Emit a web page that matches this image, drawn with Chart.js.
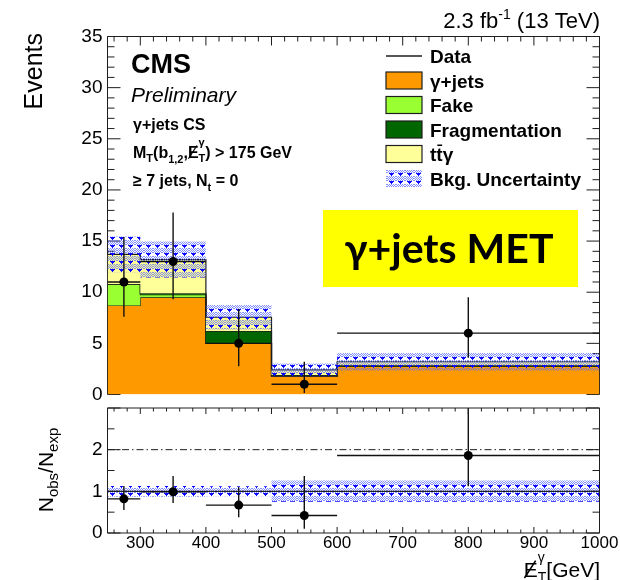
<!DOCTYPE html>
<html>
<head>
<meta charset="utf-8">
<script src="https://cdn.jsdelivr.net/npm/chart.js@4.4.0/dist/chart.umd.min.js"></script>
<style>
  html, body { margin: 0; padding: 0; background: #fff; }
  #wrap { position: relative; width: 620px; height: 580px; overflow: hidden; }
  #wrap canvas { position: absolute; left: 0; }
  #topPanel { top: 0; }
  #ratioPanel { top: 400px; }
</style>
</head>
<body>
<div id="wrap">
  <canvas id="topPanel" width="620" height="400"></canvas>
  <canvas id="ratioPanel" width="620" height="180"></canvas>
</div>
<script>
// ---- binning (missing ET, GeV) ----
const BIN_EDGES   = [250, 300, 400, 500, 600, 1000];
const BIN_CENTERS = [275, 350, 450, 550, 800];

// ---- expected backgrounds, events per bin ----
const GJETS = [8.7, 9.5, 5.0, 1.8, 2.75];
const FAKE  = [2.1, 0.25, 0.0, 0.0, 0.0];
const FRAG  = [0.0, 0.15, 1.2, 0.1, 0.1];
const TTG   = [2.9, 3.3, 1.35, 0.5, 0.35];
const BKG_UNC = [1.75, 1.75, 1.2, 0.62, 0.85];

// ---- observed data with 68% intervals ----
const DATA_EVENTS = [11, 13, 5, 1, 6];
const DATA_LO     = [7.6, 9.3, 2.75, 0.15, 3.6];
const DATA_HI     = [15.4, 17.8, 8.35, 3.2, 9.5];

// ---- ratio panel ----
const RATIO       = [0.82, 0.99, 0.67, 0.42, 1.86];
const RATIO_LO    = [0.55, 0.72, 0.38, 0.10, 1.12];
const RATIO_HI    = [1.13, 1.37, 1.10, 1.37, 3.0];
const RATIO_UNC_LO = [0.87, 0.87, 0.88, 0.75, 0.75];
const RATIO_UNC_HI = [1.13, 1.13, 1.12, 1.26, 1.26];
const RATIO_REF   = 1;
const RATIO_GUIDE = 2;

// ---- axis ticks ----
const X_TICKS       = [300, 400, 500, 600, 700, 800, 900, 1000];
const X_TICK_LABELS = ['300', '400', '500', '600', '700', '800', '900', '1000'];
const Y_TICKS_TOP   = [0, 5, 10, 15, 20, 25, 30, 35];
const Y_TICKS_RATIO = [0, 1, 2];

const FONT = '"Liberation Sans", Arial, Helvetica, sans-serif';
const EDGE = '#1e1e1e';

// histogram outline: two points per bin so the fill follows the steps
function steps(vals) {
  const pts = [];
  vals.forEach((v, i) => {
    pts.push({ x: BIN_EDGES[i], y: v });
    pts.push({ x: BIN_EDGES[i + 1], y: v });
  });
  return pts;
}
function add(a, b) { return a.map((v, i) => v + b[i]); }
function sub(a, b) { return a.map((v, i) => v - b[i]); }

// vertical + horizontal error bars, broken into segments by null gaps
function errorSegments(vals, lo, hi) {
  const pts = [];
  BIN_CENTERS.forEach((c, i) => {
    pts.push({ x: c, y: lo[i] }, { x: c, y: hi[i] }, { x: c, y: null });
    pts.push({ x: BIN_EDGES[i], y: vals[i] }, { x: BIN_EDGES[i + 1], y: vals[i] }, { x: BIN_EDGES[i + 1], y: null });
  });
  return pts;
}
function centers(vals) { return BIN_CENTERS.map((c, i) => ({ x: c, y: vals[i] })); }

// blue dotted hatch used for the uncertainty bands
function makeHatch(ctx) {
  const c = document.createElement('canvas');
  c.width = 9; c.height = 8;
  const g = c.getContext('2d');
  g.fillStyle = 'rgba(90,105,255,0.75)';
  for (let y = 0; y < 5; y++)
    for (let x = 0; x < 9; x++)
      if ((x + y) % 2 === 0) g.fillRect(x, y, 1, 1);
  g.fillStyle = '#0a0aff';
  g.fillRect(2, 5, 5, 1);
  g.fillRect(3, 6, 3, 1);
  g.fillRect(4, 7, 1, 1);
  return ctx.createPattern(c, 'repeat');
}

// rich text: runs with size / weight / offset, stacked sup+sub, slashed letters
function fnt(it) { return `${it.st || 'normal'} ${it.w || 'normal'} ${it.s}px ${FONT}`; }
function runWidth(ctx, it) {
  ctx.font = fnt(it);
  if (it.sup !== undefined) return Math.max(ctx.measureText(it.sup).width, ctx.measureText(it.sub).width);
  return ctx.measureText(it.t).width;
}
function drawRich(ctx, x, y, runs, align) {
  const total = runs.reduce((s, r) => s + runWidth(ctx, r), 0);
  let cx = align === 'right' ? x - total : align === 'center' ? x - total / 2 : x;
  ctx.textAlign = 'left';
  ctx.textBaseline = 'alphabetic';
  runs.forEach(r => {
    const w = runWidth(ctx, r);
    ctx.font = fnt(r);
    if (r.sup !== undefined) {
      ctx.fillText(r.sup, cx, y + r.supDy);
      ctx.fillText(r.sub, cx, y + r.subDy);
    } else {
      ctx.fillText(r.t, cx, y + (r.dy || 0));
      if (r.slash) {
        ctx.save();
        ctx.strokeStyle = ctx.fillStyle;
        ctx.lineWidth = Math.max(1, r.s * 0.075);
        ctx.beginPath();
        ctx.moveTo(cx + w * 0.05, y + r.s * 0.05);
        ctx.lineTo(cx + w * 0.85, y - r.s * 0.78);
        ctx.stroke();
        ctx.restore();
      }
    }
    cx += w;
  });
}

// frame with inward ticks on all requested sides
function framePlugin(id, hook, cfg) {
  return {
    id,
    [hook](chart) {
      const { ctx, chartArea: a, scales } = chart;
      const xs = scales.x, ys = scales.y;
      ctx.save();
      ctx.strokeStyle = EDGE;
      ctx.lineWidth = 1;
      ctx.beginPath();
      ctx.moveTo(a.left, a.bottom); ctx.lineTo(a.left, a.top);
      ctx.lineTo(a.right, a.top); ctx.lineTo(a.right, a.bottom);
      if (cfg.bottomEdge) ctx.lineTo(a.left, a.bottom);
      ctx.stroke();
      ctx.beginPath();
      for (let v = 260; v <= 1000; v += 20) {
        const major = v % 100 === 0;
        const len = major ? cfg.xMajor : cfg.xMinor;
        const px = xs.getPixelForValue(v);
        ctx.moveTo(px, a.top); ctx.lineTo(px, a.top + len);
        if (cfg.bottomEdge) { ctx.moveTo(px, a.bottom); ctx.lineTo(px, a.bottom - len); }
      }
      for (let v = ys.min; v <= ys.max + 1e-9; v += cfg.yMinorStep) {
        const major = Math.abs(v / cfg.yMajorStep - Math.round(v / cfg.yMajorStep)) < 1e-6;
        const len = major ? cfg.yMajor : cfg.yMinor;
        const py = ys.getPixelForValue(v);
        ctx.moveTo(a.left, py); ctx.lineTo(a.left + len, py);
        ctx.moveTo(a.right, py); ctx.lineTo(a.right - len, py);
      }
      ctx.stroke();
      ctx.restore();
    }
  };
}

// fixed axis box sizes, without the half-label overhang padding
function fixWidth(w) {
  return s => { s.width = w; s.paddingTop = 0; s.paddingBottom = 0; };
}
function fixHeight(h) {
  return s => { s.height = h; s.paddingLeft = 0; s.paddingRight = 0; };
}

const C_GJ = '#ff9900', C_FAKE = '#99ff33', C_FRAG = '#006600', C_TTG = '#ffff99';

// ================= main panel =================
const topCtx = document.getElementById('topPanel').getContext('2d');
const hatchTop = makeHatch(topCtx);
const L1 = GJETS, L2 = add(L1, FAKE), L3 = add(L2, FRAG), L4 = add(L3, TTG);
const UNC_LO = sub(L4, BKG_UNC), UNC_HI = add(L4, BKG_UNC);

const layer = (label, vals, color, order, fill) => ({
  label, data: steps(vals), fill, backgroundColor: color,
  borderColor: EDGE, borderWidth: 1.2, pointRadius: 0, order
});

const topLabels = {
  id: 'topLabels',
  afterDraw(chart) {
    const ctx = chart.ctx;
    ctx.save();
    ctx.fillStyle = '#000';
    // luminosity
    drawRich(ctx, 600, 27.5, [
      { t: '2.3 fb', s: 22 }, { t: '-1', s: 14, dy: -9 }, { t: ' (13 TeV)', s: 22 }
    ], 'right');
    // y title
    ctx.save();
    ctx.translate(42, 33);
    ctx.rotate(-Math.PI / 2);
    drawRich(ctx, 0, 0, [{ t: 'Events', s: 25 }], 'right');
    ctx.restore();
    // experiment label
    drawRich(ctx, 131, 73, [{ t: 'CMS', s: 27, w: 'bold' }], 'left');
    drawRich(ctx, 131, 102, [{ t: 'Preliminary', s: 21, st: 'italic' }], 'left');
    drawRich(ctx, 133, 129.5, [{ t: 'γ+jets CS', s: 16, w: 'bold' }], 'left');
    drawRich(ctx, 133, 158, [
      { t: 'M', s: 16, w: 'bold' }, { t: 'T', s: 11, w: 'bold', dy: 4 },
      { t: '(b', s: 16, w: 'bold' }, { t: '1,2', s: 11, w: 'bold', dy: 5 },
      { t: ',', s: 16, w: 'bold' }, { t: 'E', s: 16, w: 'bold', slash: true },
      { sup: 'γ', sub: 'T', s: 11, w: 'bold', supDy: -12, subDy: 4 },
      { t: ') > 175 GeV', s: 16, w: 'bold' }
    ], 'left');
    drawRich(ctx, 133, 186, [
      { t: '≥ 7 jets, N', s: 16, w: 'bold' }, { t: 't', s: 11, w: 'bold', dy: 5 },
      { t: ' = 0', s: 16, w: 'bold' }
    ], 'left');

    // legend
    const rows = [56, 80.5, 105, 129.5, 154, 178.5];
    const bx = 386, bw = 36, bh = 17, tx = 430;
    ctx.strokeStyle = EDGE;
    ctx.lineWidth = 1.3;
    ctx.beginPath(); ctx.moveTo(bx, rows[0]); ctx.lineTo(bx + bw, rows[0]); ctx.stroke();
    [[C_GJ, 1], [C_FAKE, 2], [C_FRAG, 3], [C_TTG, 4]].forEach(([c, r]) => {
      ctx.fillStyle = c;
      ctx.fillRect(bx, rows[r] - bh / 2, bw, bh);
      ctx.lineWidth = 1.2;
      ctx.strokeRect(bx, rows[r] - bh / 2, bw, bh);
    });
    ctx.fillStyle = hatchTop;
    ctx.fillRect(bx, rows[5] - bh / 2, bw, bh);
    ctx.fillStyle = '#000';
    const lf = { s: 19, w: 'bold' };
    const base = r => rows[r] + 7;
    drawRich(ctx, tx, base(0), [{ t: 'Data', ...lf }], 'left');
    drawRich(ctx, tx, base(1), [{ t: 'γ+jets', ...lf }], 'left');
    drawRich(ctx, tx, base(2), [{ t: 'Fake', ...lf }], 'left');
    drawRich(ctx, tx, base(3), [{ t: 'Fragmentation', ...lf }], 'left');
    drawRich(ctx, tx, base(4), [{ t: 'ttγ', ...lf }], 'left');
    ctx.font = fnt(lf);
    const t1 = ctx.measureText('t').width;
    ctx.fillRect(tx + t1 + 1, base(4) - 16.5, t1 - 1.5, 1.5);
    drawRich(ctx, tx, base(5), [{ t: 'Bkg. Uncertainty', ...lf }], 'left');

    // highlighted label
    ctx.fillStyle = '#ffff00';
    ctx.fillRect(323, 210, 255, 77);
    ctx.fillStyle = '#000';
    ctx.font = 'bold 41px Lato, "Open Sans", sans-serif';
    ctx.textAlign = 'center';
    ctx.textBaseline = 'middle';
    ctx.fillText('γ+jets MET', 449, 250);
    ctx.restore();
  }
};

new Chart(topCtx, {
  type: 'line',
  data: {
    datasets: [
      layer('γ+jets', L1, C_GJ, 10, 'origin'),
      layer('Fake', L2, C_FAKE, 9, '-1'),
      layer('Fragmentation', L3, C_FRAG, 8, '-1'),
      layer('ttγ', L4, C_TTG, 7, '-1'),
      { label: 'unc-lo', data: steps(UNC_LO), fill: false, borderWidth: 0, borderColor: 'rgba(0,0,0,0)', pointRadius: 0, order: 6 },
      { label: 'Bkg. Uncertainty', data: steps(UNC_HI), fill: '-1', backgroundColor: hatchTop, borderWidth: 0, borderColor: 'rgba(0,0,0,0)', pointRadius: 0, order: 5 },
      { label: 'Data errors', data: errorSegments(DATA_EVENTS, DATA_LO, DATA_HI), borderColor: '#111', borderWidth: 1.4, pointRadius: 0, fill: false, spanGaps: false, order: 2 },
      { label: 'Data', data: centers(DATA_EVENTS), showLine: false, pointRadius: 4.5, pointBackgroundColor: '#000', pointBorderWidth: 0, order: 1 }
    ]
  },
  options: {
    responsive: false, animation: false, devicePixelRatio: 1,
    layout: { padding: { left: 0, right: 20.5, top: 36.5, bottom: 5.5 } },
    plugins: { legend: { display: false }, tooltip: { enabled: false } },
    scales: {
      x: { type: 'linear', min: 250, max: 1000, display: false },
      y: {
        type: 'linear', min: 0, max: 35,
        afterBuildTicks: s => { s.ticks = Y_TICKS_TOP.map(v => ({ value: v })); },
        afterFit: fixWidth(107.5),
        grid: { display: false, drawTicks: false },
        border: { display: false },
        ticks: { font: { family: FONT, size: 19 }, color: '#000', padding: 5 }
      }
    }
  },
  plugins: [
    framePlugin('frameTop', 'beforeDatasetsDraw', { xMajor: 9, xMinor: 5, yMajor: 13, yMinor: 7, yMajorStep: 5, yMinorStep: 1, bottomEdge: false }),
    topLabels
  ]
});

// ================= ratio panel =================
const botCtx = document.getElementById('ratioPanel').getContext('2d');
const hatchBot = makeHatch(botCtx);

const ratioLabels = {
  id: 'ratioLabels',
  afterDraw(chart) {
    const ctx = chart.ctx;
    ctx.save();
    ctx.fillStyle = '#000';
    ctx.translate(53, 70);
    ctx.rotate(-Math.PI / 2);
    drawRich(ctx, 0, 0, [
      { t: 'N', s: 21 }, { t: 'obs', s: 15, dy: 5 }, { t: '/N', s: 21 }, { t: 'exp', s: 15, dy: 5 }
    ], 'center');
    ctx.restore();
    ctx.save();
    ctx.fillStyle = '#000';
    drawRich(ctx, 600, 177, [
      { t: 'E', s: 21, slash: true },
      { sup: 'γ', sub: 'T', s: 14, supDy: -15, subDy: 5 },
      { t: '[GeV]', s: 21 }
    ], 'right');
    ctx.restore();
  }
};

new Chart(botCtx, {
  type: 'line',
  data: {
    datasets: [
      { label: 'unc-lo', data: steps(RATIO_UNC_LO), fill: false, borderWidth: 0, borderColor: 'rgba(0,0,0,0)', pointRadius: 0, order: 10 },
      { label: 'unc-hi', data: steps(RATIO_UNC_HI), fill: '-1', backgroundColor: hatchBot, borderWidth: 0, borderColor: 'rgba(0,0,0,0)', pointRadius: 0, order: 9 },
      { label: 'unity', data: [{ x: 250, y: RATIO_REF }, { x: 1000, y: RATIO_REF }], borderColor: EDGE, borderWidth: 1.3, pointRadius: 0, fill: false, order: 8 },
      { label: 'guide', data: [{ x: 250, y: RATIO_GUIDE }, { x: 1000, y: RATIO_GUIDE }], borderColor: EDGE, borderWidth: 1, borderDash: [7, 3, 1.5, 3], pointRadius: 0, fill: false, order: 7 },
      { label: 'ratio errors', data: errorSegments(RATIO, RATIO_LO, RATIO_HI), borderColor: '#111', borderWidth: 1.4, pointRadius: 0, fill: false, spanGaps: false, order: 2 },
      { label: 'ratio', data: centers(RATIO), showLine: false, pointRadius: 4.5, pointBackgroundColor: '#000', pointBorderWidth: 0, order: 1 }
    ]
  },
  options: {
    responsive: false, animation: false, devicePixelRatio: 1,
    layout: { padding: { left: 0, right: 20.5, top: 8, bottom: 0 } },
    plugins: { legend: { display: false }, tooltip: { enabled: false } },
    scales: {
      x: {
        type: 'linear', min: 250, max: 1000,
        afterBuildTicks: s => { s.ticks = X_TICKS.map(v => ({ value: v })); },
        afterFit: fixHeight(47),
        grid: { display: false, drawTicks: false },
        border: { display: false },
        ticks: {
          font: { family: FONT, size: 17 }, color: '#000', padding: 0, maxRotation: 0, autoSkip: false,
          callback: (v, i) => X_TICK_LABELS[i]
        }
      },
      y: {
        type: 'linear', min: 0, max: 3,
        afterBuildTicks: s => { s.ticks = Y_TICKS_RATIO.map(v => ({ value: v })); },
        afterFit: fixWidth(107.5),
        grid: { display: false, drawTicks: false },
        border: { display: false },
        ticks: { font: { family: FONT, size: 19 }, color: '#000', padding: 5 }
      }
    }
  },
  plugins: [
    framePlugin('frameRatio', 'afterDatasetsDraw', { xMajor: 6, xMinor: 3.5, yMajor: 13, yMinor: 7, yMajorStep: 1, yMinorStep: 0.5, bottomEdge: true }),
    ratioLabels
  ]
});
</script>
</body>
</html>
